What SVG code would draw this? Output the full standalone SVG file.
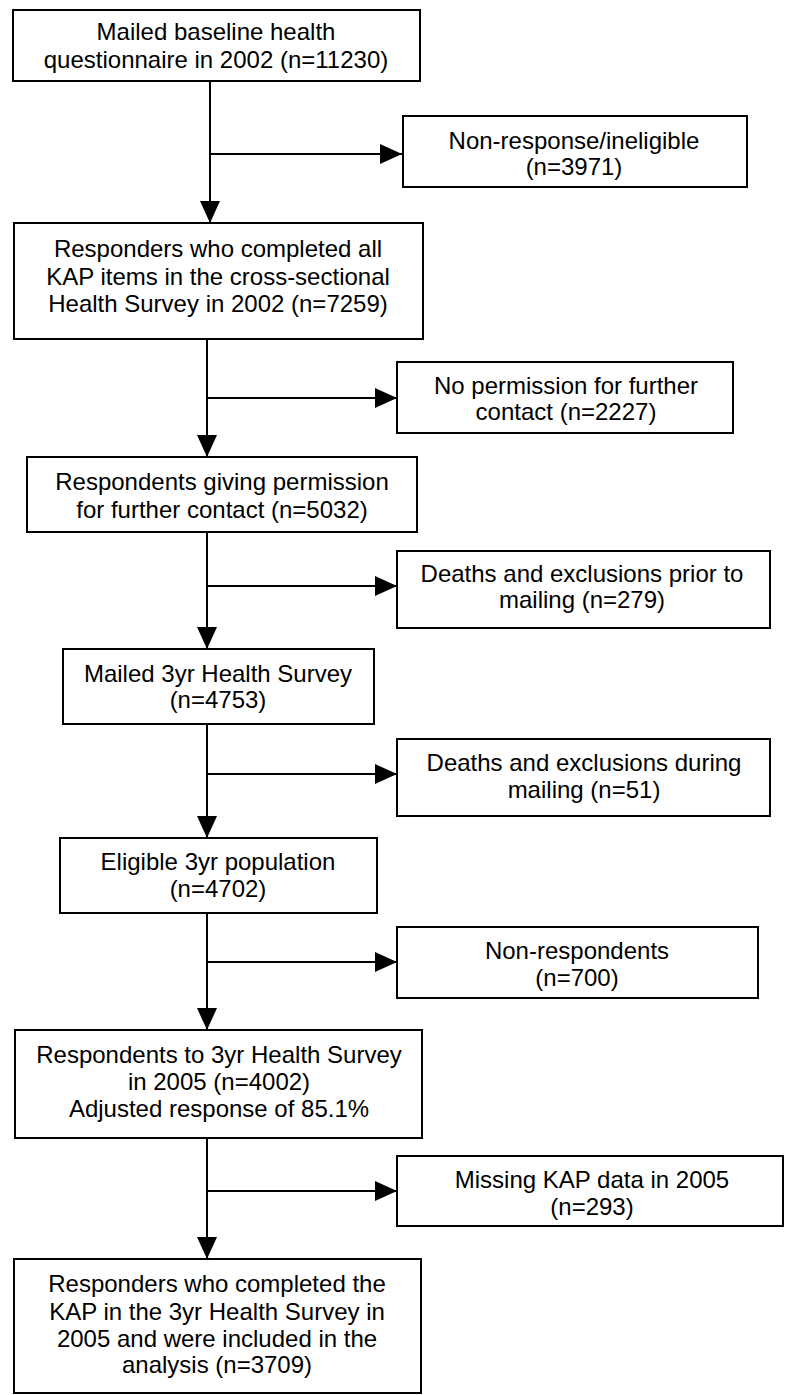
<svg xmlns="http://www.w3.org/2000/svg" width="785" height="1395" viewBox="0 0 785 1395">
<style>
.box{fill:#fff;stroke:#000;stroke-width:2}
.t{font-family:"Liberation Sans",Arial,sans-serif;font-size:24px;fill:#000;text-anchor:middle}
.ln{stroke:#000;stroke-width:2;fill:none}
</style>
<defs>
<marker id="ah" markerWidth="22" markerHeight="20" viewBox="0 0 22 20" refX="22" refY="10" orient="auto" markerUnits="userSpaceOnUse">
<path d="M0,0 L22,10 L0,20 Z" fill="#000"/>
</marker>
</defs>
<rect width="785" height="1395" fill="#fff"/>
<g id="connectors">
<line class="ln" x1="210" y1="81" x2="210" y2="223" marker-end="url(#ah)"/>
<line class="ln" x1="210" y1="154" x2="402" y2="154" marker-end="url(#ah)"/>
<line class="ln" x1="207" y1="339" x2="207" y2="457" marker-end="url(#ah)"/>
<line class="ln" x1="207" y1="398" x2="397" y2="398" marker-end="url(#ah)"/>
<line class="ln" x1="207" y1="532" x2="207" y2="649" marker-end="url(#ah)"/>
<line class="ln" x1="207" y1="586" x2="397" y2="586" marker-end="url(#ah)"/>
<line class="ln" x1="207" y1="724" x2="207" y2="838" marker-end="url(#ah)"/>
<line class="ln" x1="207" y1="774" x2="397" y2="774" marker-end="url(#ah)"/>
<line class="ln" x1="207" y1="913" x2="207" y2="1030" marker-end="url(#ah)"/>
<line class="ln" x1="207" y1="962" x2="397" y2="962" marker-end="url(#ah)"/>
<line class="ln" x1="207" y1="1138" x2="207" y2="1259" marker-end="url(#ah)"/>
<line class="ln" x1="207" y1="1191" x2="397" y2="1191" marker-end="url(#ah)"/>
</g>
<g id="n1">
<rect class="box" x="13" y="10" width="407" height="71"/>
<text class="t" x="216" y="40">Mailed baseline health</text>
<text class="t" x="216" y="68">questionnaire in 2002 (n=11230)</text>
</g>
<g id="n1r">
<rect class="box" x="403" y="116" width="344" height="71"/>
<text class="t" x="574" y="149">Non-response/ineligible</text>
<text class="t" x="574" y="175">(n=3971)</text>
</g>
<g id="n2">
<rect class="box" x="14" y="223" width="409" height="116"/>
<text class="t" x="218" y="257">Responders who completed all</text>
<text class="t" x="218" y="285">KAP items in the cross-sectional</text>
<text class="t" x="218" y="312">Health Survey in 2002 (n=7259)</text>
</g>
<g id="n2r">
<rect class="box" x="397" y="362" width="336" height="71"/>
<text class="t" x="566" y="394">No permission for further</text>
<text class="t" x="566" y="420">contact (n=2227)</text>
</g>
<g id="n3">
<rect class="box" x="27" y="457" width="390" height="75"/>
<text class="t" x="222" y="490">Respondents giving permission</text>
<text class="t" x="222" y="518">for further contact (n=5032)</text>
</g>
<g id="n3r">
<rect class="box" x="397" y="551" width="373" height="77"/>
<text class="t" x="582" y="582">Deaths and exclusions prior to</text>
<text class="t" x="582" y="608">mailing (n=279)</text>
</g>
<g id="n4">
<rect class="box" x="63" y="649" width="311" height="75"/>
<text class="t" x="218" y="682">Mailed 3yr Health Survey</text>
<text class="t" x="218" y="708">(n=4753)</text>
</g>
<g id="n4r">
<rect class="box" x="397" y="739" width="373" height="77"/>
<text class="t" x="584" y="771">Deaths and exclusions during</text>
<text class="t" x="584" y="798">mailing (n=51)</text>
</g>
<g id="n5">
<rect class="box" x="60" y="838" width="317" height="75"/>
<text class="t" x="218" y="870">Eligible 3yr population</text>
<text class="t" x="218" y="897">(n=4702)</text>
</g>
<g id="n5r">
<rect class="box" x="397" y="927" width="361" height="71"/>
<text class="t" x="577" y="959">Non-respondents</text>
<text class="t" x="577" y="986">(n=700)</text>
</g>
<g id="n6">
<rect class="box" x="15" y="1030" width="407" height="108"/>
<text class="t" x="219" y="1063">Respondents to 3yr Health Survey</text>
<text class="t" x="219" y="1090">in 2005 (n=4002)</text>
<text class="t" x="219" y="1117">Adjusted response of 85.1%</text>
</g>
<g id="n6r">
<rect class="box" x="397" y="1156" width="386" height="70"/>
<text class="t" x="592" y="1188">Missing KAP data in 2005</text>
<text class="t" x="592" y="1215">(n=293)</text>
</g>
<g id="n7">
<rect class="box" x="14" y="1259" width="407" height="134"/>
<text class="t" x="217" y="1292">Responders who completed the</text>
<text class="t" x="217" y="1320">KAP in the 3yr Health Survey in</text>
<text class="t" x="217" y="1347">2005 and were included in the</text>
<text class="t" x="217" y="1373">analysis (n=3709)</text>
</g>
</svg>
